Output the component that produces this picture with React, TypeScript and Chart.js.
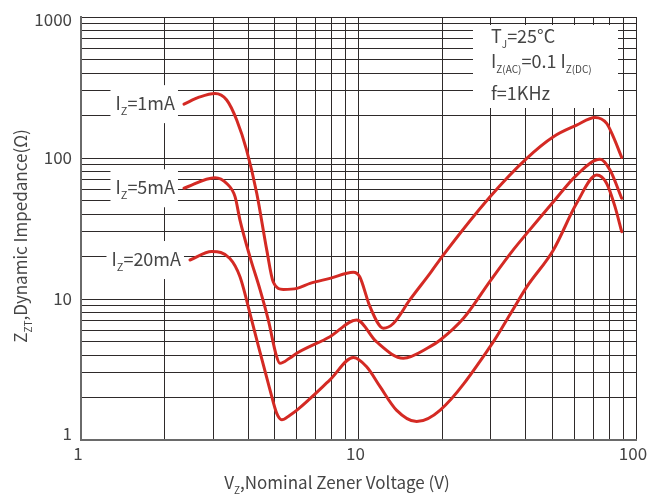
import React, { useEffect, useRef } from "react";
import { Chart, registerables } from "chart.js";

Chart.register(...registerables);

// ---- Data ----
const X_GRID = [1, 2, 3, 4, 5, 6, 7, 8, 9, 10, 20, 30, 40, 50, 60, 70, 80, 90, 100];
const Y_GRID = [1, 2, 3, 4, 5, 6, 7, 8, 9, 10, 20, 30, 40, 50, 60, 70, 80, 90, 100, 200, 300, 400, 500, 600, 700, 800, 900, 1000];
const X_LABELS = [1, 10, 100];
const Y_LABELS = [1, 10, 100, 1000];

const V_1MA = [2.35, 2.68, 3.04, 3.35, 3.64, 3.95, 4.3, 4.67, 4.93, 5.36, 6.0, 6.69, 7.89, 9.58, 10.1, 11.0, 12.3, 13.35, 15.3, 18.1, 20.2, 29.8, 40.4, 50.4, 61.1, 71.2, 78.4, 82.8, 88.8];
const Z_1MA = [241, 271, 287, 258, 186, 114, 56, 22.3, 13.2, 11.7, 11.9, 12.9, 14.0, 15.5, 14.4, 8.82, 6.2, 6.7, 9.84, 15.2, 20.5, 53.2, 99.5, 141.6, 171, 194, 176, 141.6, 101];

const V_5MA = [2.35, 3.04, 3.35, 3.59, 3.74, 4.06, 4.42, 4.73, 5.07, 5.21, 5.66, 5.99, 7.89, 9.85, 11.6, 14.5, 18.1, 19.7, 23.9, 29.8, 36.1, 40.4, 50.4, 61.1, 74.2, 80.6, 88.8];
const Z_5MA = [61, 72.5, 66, 53.2, 36.3, 20, 11.6, 7.1, 3.9, 3.5, 3.82, 4.12, 5.4, 7.1, 4.98, 3.8, 4.59, 5.12, 7.3, 13.4, 22.3, 29.2, 49, 75.7, 97.9, 82.2, 51.8];

const V_20MA = [2.47, 2.96, 3.44, 3.74, 4.12, 4.3, 4.8, 5.07, 5.29, 5.66, 6.0, 7.89, 9.58, 10.7, 11.96, 13.7, 16.2, 19.7, 29.8, 35.2, 40.4, 50.4, 61.1, 72.2, 78.4, 84, 88.8];
const Z_20MA = [18.9, 21.7, 19.4, 14.4, 7.1, 5.12, 2.26, 1.55, 1.39, 1.5, 1.63, 2.67, 3.85, 3.31, 2.39, 1.63, 1.35, 1.63, 4.59, 7.8, 12.2, 22.3, 47.7, 75.7, 66, 45.2, 30];

const SERIES = [
  { label: "1mA", v: V_1MA, z: Z_1MA },
  { label: "5mA", v: V_5MA, z: Z_5MA },
  { label: "20mA", v: V_20MA, z: Z_20MA },
];

const FONT = '"Noto Sans CJK SC", "Noto Sans", sans-serif';
const TEXT = "#454545";
const GRID = "#2e2a2a";
const RED = "#d42a24";

type Part = { t: string; sub?: boolean };

function font(size: number) {
  return `${size}px ${FONT}`;
}

function richWidth(ctx: CanvasRenderingContext2D, parts: Part[], size: number, sub: number) {
  let w = 0;
  for (const p of parts) {
    ctx.font = font(p.sub ? sub : size);
    w += ctx.measureText(p.t).width;
  }
  return w;
}

function drawRich(ctx: CanvasRenderingContext2D, parts: Part[], x: number, y: number, size: number, sub: number) {
  ctx.textAlign = "left";
  ctx.textBaseline = "alphabetic";
  let cx = x;
  for (const p of parts) {
    ctx.font = font(p.sub ? sub : size);
    ctx.fillText(p.t, cx, p.sub ? y + 5 : y);
    cx += ctx.measureText(p.t).width;
  }
  return cx;
}

const overlay = {
  id: "overlay",
  beforeDatasetsDraw(chart: any) {
    const ctx: CanvasRenderingContext2D = chart.ctx;
    const xs = chart.scales.x;
    const ys = chart.scales.y;
    ctx.save();
    ctx.fillStyle = TEXT;

    // curve labels, anchored to the first point of each series
    for (const s of SERIES) {
      const px = xs.getPixelForValue(s.v[0]);
      const py = ys.getPixelForValue(s.z[0]);
      const parts: Part[] = [{ t: "I" }, { t: "Z", sub: true }, { t: "=" + s.label }];
      const w = richWidth(ctx, parts, 18, 11);
      const right = px - 9;
      const left = right - w;
      ctx.fillStyle = "#ffffff";
      ctx.fillRect(left - 5, py - 19, w + 8, 38);
      ctx.fillStyle = TEXT;
      drawRich(ctx, parts, left, py + 6, 18, 11);
    }

    // conditions box (top right)
    ctx.fillStyle = "#ffffff";
    ctx.fillRect(473, 25, 145, 83);
    ctx.fillStyle = TEXT;
    drawRich(ctx, [{ t: "T" }, { t: "J", sub: true }, { t: "=25°C" }], 491, 43, 18, 10);
    drawRich(
      ctx,
      [{ t: "I" }, { t: "Z(AC)", sub: true }, { t: "=0.1 I" }, { t: "Z(DC)", sub: true }],
      491,
      68,
      18,
      10
    );
    drawRich(ctx, [{ t: "f=1KHz" }], 491, 100, 18, 10);
    ctx.restore();
  },
  afterDraw(chart: any) {
    const ctx: CanvasRenderingContext2D = chart.ctx;
    const xs = chart.scales.x;
    const ys = chart.scales.y;
    const area = chart.chartArea;
    ctx.save();
    ctx.fillStyle = TEXT;
    ctx.font = font(17);
    // y tick labels
    ctx.textAlign = "right";
    ctx.textBaseline = "middle";
    for (const v of Y_LABELS) {
      let y = ys.getPixelForValue(v);
      y = Math.min(Math.max(y, area.top + 3), area.bottom - 6);
      ctx.fillText(String(v), area.left - 9, y);
    }
    // x tick labels
    ctx.textAlign = "center";
    ctx.textBaseline = "alphabetic";
    for (const v of X_LABELS) {
      const x = xs.getPixelForValue(v);
      ctx.fillText(String(v), x - 3, area.bottom + 20);
    }
    // x title
    const xt: Part[] = [{ t: "V" }, { t: "Z", sub: true }, { t: ",Nominal Zener Voltage (V)" }];
    const xw = richWidth(ctx, xt, 17, 10);
    ctx.fillStyle = TEXT;
    drawRich(ctx, xt, 337 - xw / 2, 489, 17, 10);
    // y title
    const yt: Part[] = [{ t: "Z" }, { t: "ZT", sub: true }, { t: ",Dynamic Impedance(Ω)" }];
    const yw = richWidth(ctx, yt, 17, 10);
    ctx.translate(27, 236);
    ctx.rotate(-Math.PI / 2);
    drawRich(ctx, yt, -yw / 2, 0, 17, 10);
    ctx.restore();
  },
};

export default function App() {
  const ref = useRef<HTMLCanvasElement | null>(null);
  useEffect(() => {
    if (!ref.current) return;
    const chart = new Chart(ref.current, {
      type: "line",
      data: {
        datasets: SERIES.map((s) => ({
          label: s.label,
          data: s.v.map((v, i) => ({ x: v, y: s.z[i] })),
          borderColor: RED,
          borderWidth: 3,
          pointRadius: 0,
          fill: false,
          cubicInterpolationMode: "monotone" as const,
          borderCapStyle: "round" as const,
          borderJoinStyle: "round" as const,
        })),
      },
      options: {
        responsive: false,
        animation: false,
        layout: { padding: { left: 81, top: 17, right: 29, bottom: 55 } },
        plugins: { legend: { display: false }, tooltip: { enabled: false } },
        scales: {
          x: {
            type: "logarithmic",
            min: 1,
            max: 100,
            afterBuildTicks: (s: any) => {
              s.ticks = X_GRID.map((v) => ({ value: v }));
            },
            ticks: { display: false, autoSkip: false },
            grid: { color: GRID, lineWidth: 1, drawTicks: false },
            border: { display: true, color: "#6a6a6a", width: 2 },
          },
          y: {
            type: "logarithmic",
            min: 1,
            max: 1000,
            afterBuildTicks: (s: any) => {
              s.ticks = Y_GRID.map((v) => ({ value: v }));
            },
            ticks: { display: false, autoSkip: false },
            grid: { color: GRID, lineWidth: 1, drawTicks: false },
            border: { display: true, color: "#6a6a6a", width: 2 },
          },
        },
      },
      plugins: [overlay],
    });
    return () => chart.destroy();
  }, []);
  return (
    <div style={{ position: "fixed", left: 0, top: 0, width: 665, height: 495, background: "#fff" }}>
      <canvas ref={ref} width={665} height={495} style={{ display: "block" }} />
    </div>
  );
}
